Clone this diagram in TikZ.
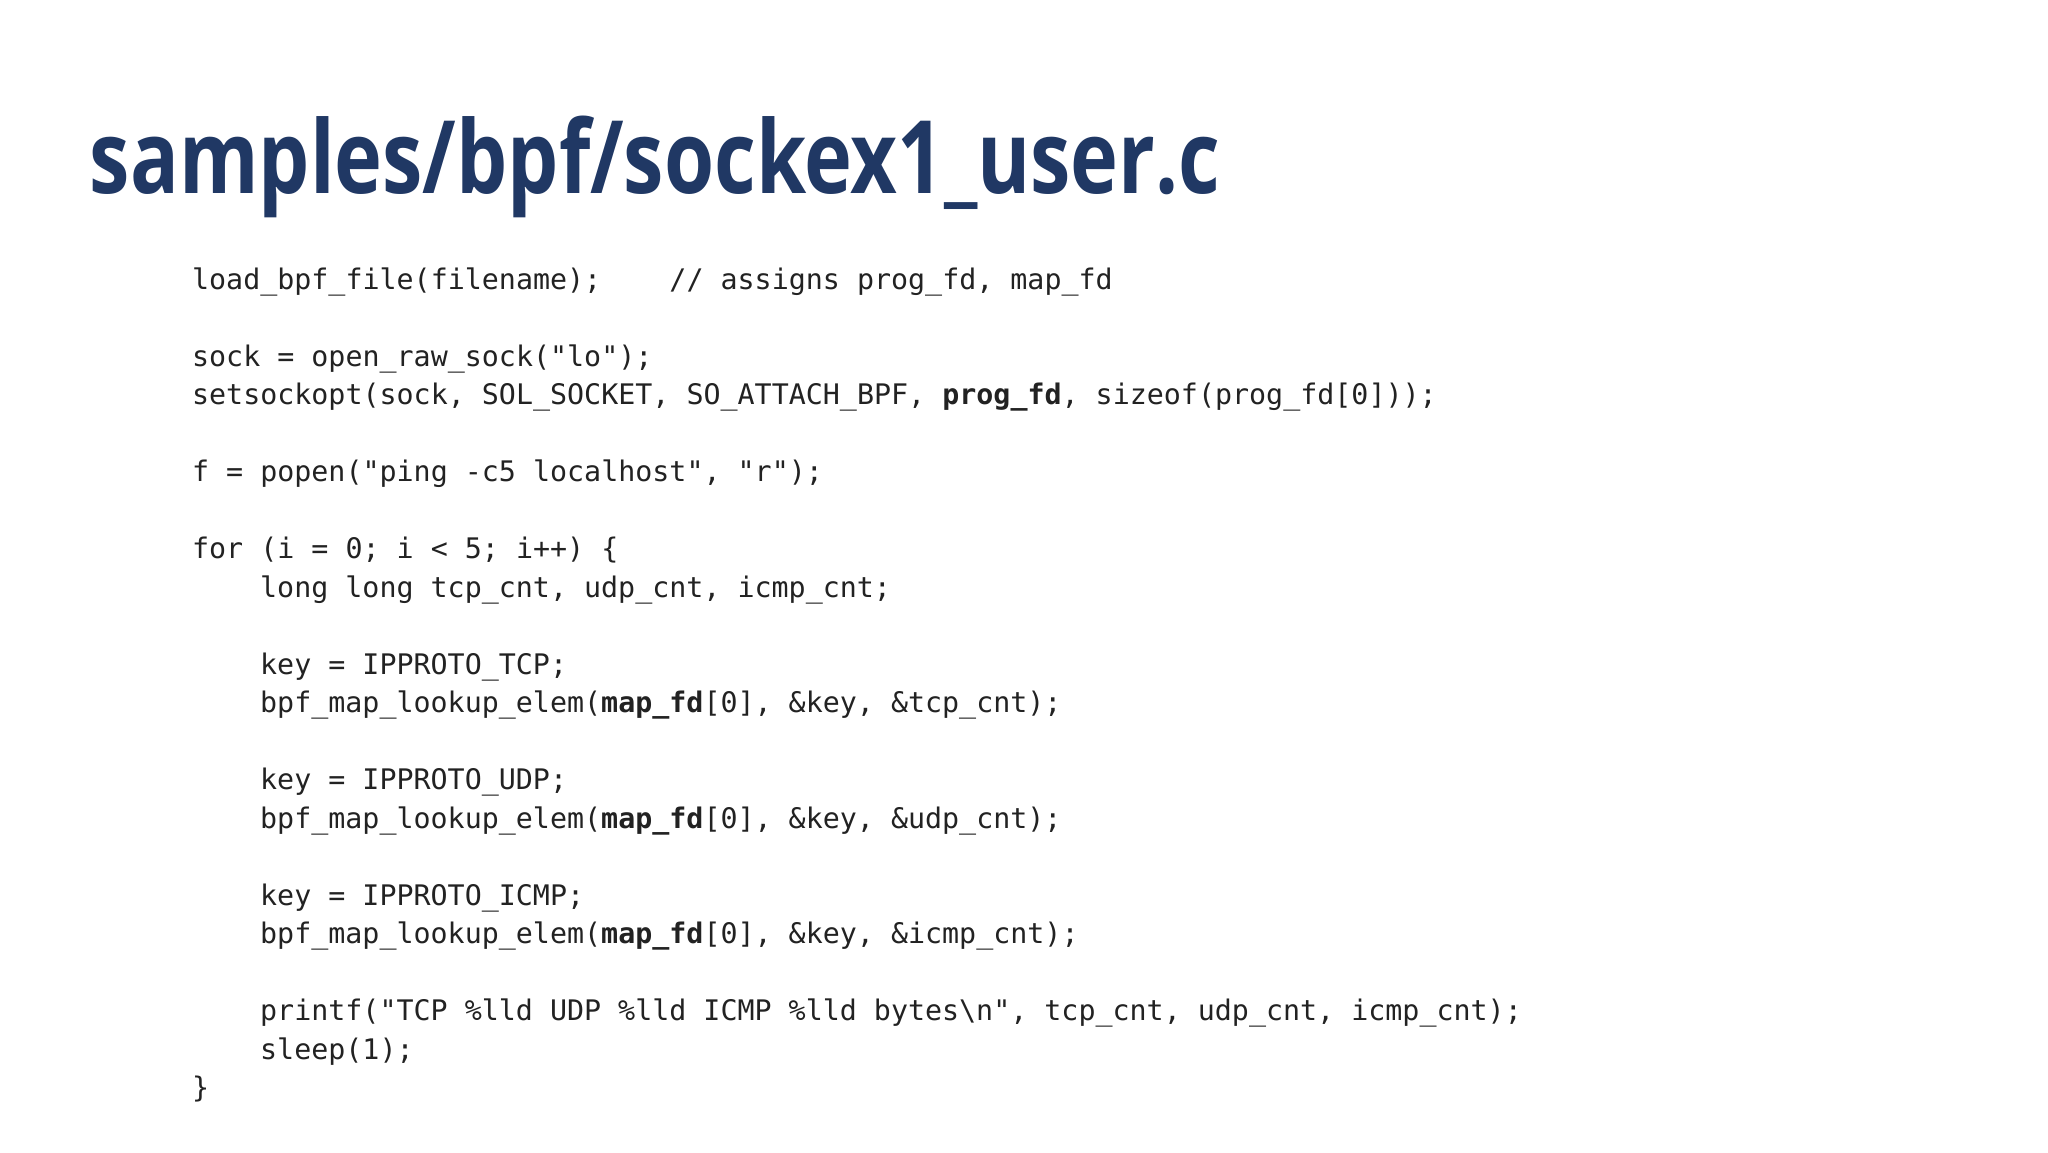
\documentclass[tikz,border=0pt]{standalone}
\usepackage{fontspec}
\setmainfont{Open Sans}
\newfontfamily\titlefont[FakeStretch=0.8]{Open Sans}
\newfontfamily\codefont{DejaVu Sans Mono}
\definecolor{titleblue}{HTML}{203864}
\definecolor{codegray}{HTML}{222222}
\begin{document}
\begin{tikzpicture}[x=0.01cm,y=-0.01cm,
  code/.style={anchor=base west,inner sep=0pt,font=\codefont\fontsize{6.15pt}{7pt}\selectfont,text=codegray}]
\useasboundingbox (0,0) rectangle (1564,880);
\node[anchor=base west,inner sep=0pt,font=\titlefont\bfseries\fontsize{22pt}{26pt}\selectfont,text=titleblue] (title) at (68,148) {samples/bpf/sockex1\_user.c};
\node[code] (l0) at (146,221) {load\_bpf\_file(filename);\ \ \ \ // assigns prog\_fd, map\_fd};
\node[code] (l2) at (146,{221+29.4*2}) {sock = open\_raw\_sock("lo");};
\node[code] (l3) at (146,{221+29.4*3}) {setsockopt(sock, SOL\_SOCKET, SO\_ATTACH\_BPF, \textbf{prog\_fd}, sizeof(prog\_fd[0]));};
\node[code] (l5) at (146,{221+29.4*5}) {f = popen("ping -c5 localhost", "r");};
\node[code] (l7) at (146,{221+29.4*7}) {for (i = 0; i < 5; i++) \{};
\node[code] (l8) at (198,{221+29.4*8}) {long long tcp\_cnt, udp\_cnt, icmp\_cnt;};
\node[code] (l10) at (198,{221+29.4*10}) {key = IPPROTO\_TCP;};
\node[code] (l11) at (198,{221+29.4*11}) {bpf\_map\_lookup\_elem(\textbf{map\_fd}[0], \&key, \&tcp\_cnt);};
\node[code] (l13) at (198,{221+29.4*13}) {key = IPPROTO\_UDP;};
\node[code] (l14) at (198,{221+29.4*14}) {bpf\_map\_lookup\_elem(\textbf{map\_fd}[0], \&key, \&udp\_cnt);};
\node[code] (l16) at (198,{221+29.4*16}) {key = IPPROTO\_ICMP;};
\node[code] (l17) at (198,{221+29.4*17}) {bpf\_map\_lookup\_elem(\textbf{map\_fd}[0], \&key, \&icmp\_cnt);};
\node[code] (l19) at (198,{221+29.4*19}) {printf("TCP \%lld UDP \%lld ICMP \%lld bytes\textbackslash n", tcp\_cnt, udp\_cnt, icmp\_cnt);};
\node[code] (l20) at (198,{221+29.4*20}) {sleep(1);};
\node[code] (l21) at (146,{221+29.4*21}) {\}};
\end{tikzpicture}
\end{document}
